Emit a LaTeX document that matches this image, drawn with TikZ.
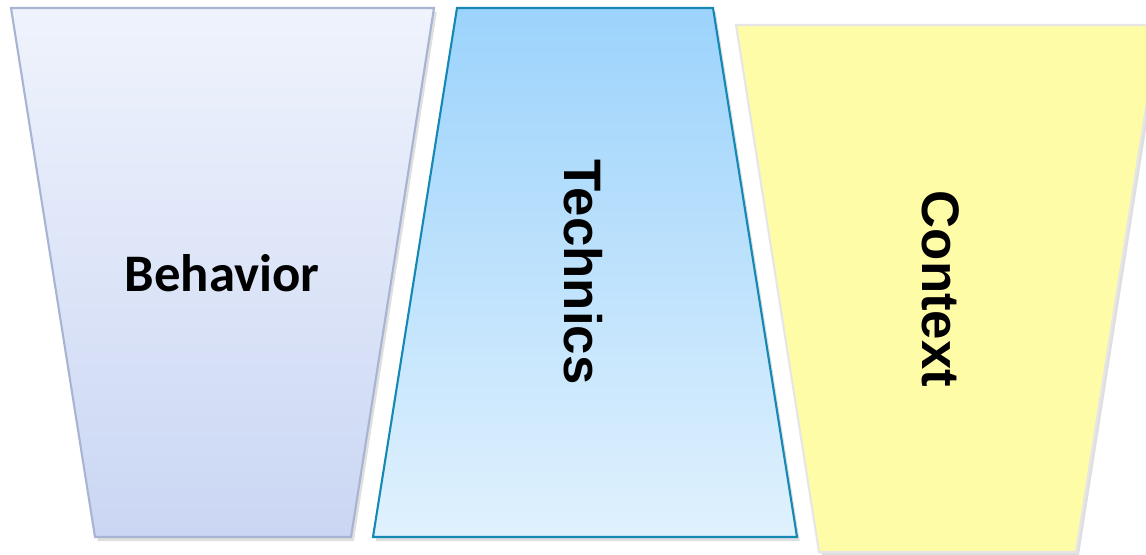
\documentclass[tikz,border=0pt]{standalone}
\usepackage{fontspec}
\setmainfont{Liberation Sans}
\newfontfamily\arialfont{Liberation Sans}
\newfontfamily\calfont{Carlito}
\usetikzlibrary{shadows}
\definecolor{behavetop}{HTML}{EFF3FC}
\definecolor{behavebot}{HTML}{CAD6F3}
\definecolor{behaveline}{HTML}{A7B4D2}
\definecolor{techtop}{HTML}{9CD3FC}
\definecolor{techbot}{HTML}{E0F1FD}
\definecolor{techline}{HTML}{1589B3}
\definecolor{ctxfill}{HTML}{FFFCA8}
\definecolor{ctxline}{HTML}{E6E6E6}
\begin{document}
\begin{tikzpicture}[x=0.01cm, y=0.01cm]
\tikzstyle{every node}+=[inner sep=0pt]
\tikzstyle{shade box}=[line width=0.6pt, line join=miter,
  drop shadow={shadow xshift=0.8pt, shadow yshift=-1.2pt, opacity=0.25}]
\tikzstyle{label}=[font=\fontsize{15}{18}\selectfont\bfseries]
\clip (0,0) rectangle (1146,-555);
\fill [white] (0,0) rectangle (1146,-555);
% left: wide top, narrow bottom
\path [shade box, draw=behaveline, top color=behavetop, bottom color=behavebot]
  (11,-8) -- (434,-8) -- (351,-537) -- (95,-537) -- cycle;
\node [label] (behavior) at (222,-273) {\calfont\bfseries Behavior};
% middle: narrow top, wide bottom
\path [shade box, draw=techline, top color=techtop, bottom color=techbot]
  (457,-8) -- (713,-8) -- (797,-537) -- (373,-537) -- cycle;
\node [label, rotate=-90] (technics) at (583,-272) {\arialfont\bfseries Technics};
% right: runs off the edge
\path [shade box, draw=ctxline, fill=ctxfill]
  (736,-25) -- (1159,-25) -- (1076,-552) -- (819,-552) -- cycle;
\node [label, rotate=-90] (context) at (941,-289) {\arialfont\bfseries Context};
\end{tikzpicture}
\end{document}
